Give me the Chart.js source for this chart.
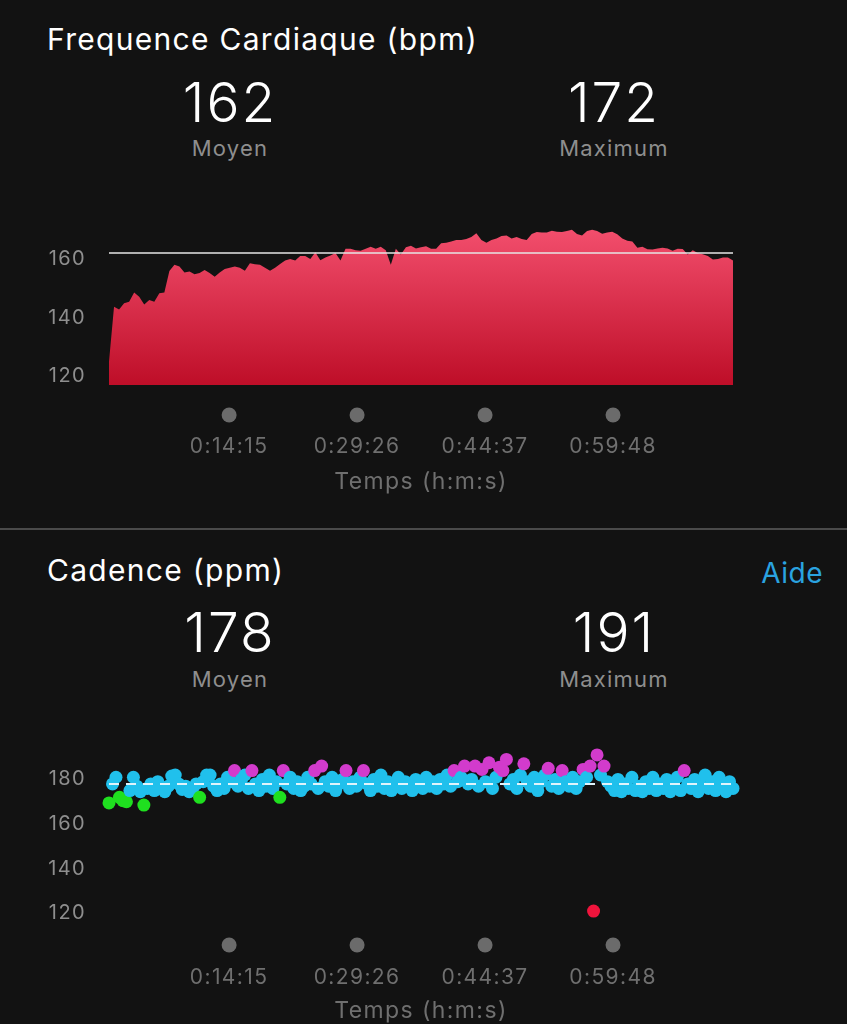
<!DOCTYPE html>
<html>
<head>
<meta charset="utf-8">
<script src="https://cdn.jsdelivr.net/npm/chart.js@4.4.0/dist/chart.umd.min.js"></script>
<style>
  body { margin: 0; background: #121212; width: 847px; height: 1024px; overflow: hidden; position: relative; font-family: Inter, "Noto Sans", sans-serif; }
  .t { position: absolute; white-space: nowrap; }
  .title { left: 47px; font-size: 30px; line-height: 30px; color: #fff; letter-spacing: 1.3px; }
  .big { width: 300px; text-align: center; font-size: 55px; line-height: 55px; color: #fff; font-weight: 300; letter-spacing: 2px; }
  .lbl { width: 300px; text-align: center; font-size: 22px; line-height: 22px; color: #8e8e8e; letter-spacing: 1.2px; }
  .help { right: 24px; font-size: 28px; line-height: 28px; color: #2aa3e0; letter-spacing: 0.5px; }
  .sep { position: absolute; left: 0; width: 847px; top: 528px; height: 2px; background: #4a4a4a; }
  canvas { position: absolute; left: 0; }
</style>
</head>
<body>
  <div class="t title" style="top:24px">Frequence Cardiaque (bpm)</div>
  <div class="t big" style="left:80px;top:75px" id="hrAvg"></div>
  <div class="t lbl" style="left:80px;top:137px">Moyen</div>
  <div class="t big" style="left:464px;top:75px" id="hrMax"></div>
  <div class="t lbl" style="left:464px;top:137px">Maximum</div>
  <canvas id="hr" width="847" height="310" style="top:200px"></canvas>

  <div class="sep"></div>

  <div class="t title" style="top:555px">Cadence (ppm)</div>
  <div class="t help" style="top:559px">Aide</div>
  <div class="t big" style="left:80px;top:605px" id="cadAvg"></div>
  <div class="t lbl" style="left:80px;top:668px">Moyen</div>
  <div class="t big" style="left:464px;top:605px" id="cadMax"></div>
  <div class="t lbl" style="left:464px;top:668px">Maximum</div>
  <canvas id="cad" width="847" height="300" style="top:730px"></canvas>

<script>
// total duration of the activity, in seconds
const duration = 4442;
const timeTicks = [855, 1766, 2677, 3588];
const hrTicks = [120, 140, 160];
const cadTicks = [120, 140, 160, 180];

const hrAvg = 162;
const hrMax = 172;
const cadAvg = 178;
const cadMax = 191;

// heart rate samples, evenly spaced over the duration
const heartRate = [
  125, 143.7, 142.8, 144.9, 145.4, 148.6, 147.1, 144.5, 146.0, 145.4,
  148.3, 148.6, 155.9, 158.0, 157.4, 155.4, 155.7, 154.8, 155.2, 156.2,
  155.2, 153.9, 155.4, 156.6, 157.0, 157.4, 157.0, 156.0, 158.5, 158.2,
  158.0, 157, 156, 157, 158.3, 159.5, 160, 159.5, 161, 161,
  160, 162.3, 159.6, 160.5, 161.2, 162, 159.5, 163.5, 163.5, 163,
  162.8, 163.5, 164.2, 163.5, 164.2, 163, 158, 163.5, 161.5, 164,
  164.5, 163.6, 164, 164.3, 163.5, 163.5, 165.4, 165.5, 166, 166.5,
  166.5, 166.8, 167.5, 168.8, 166.5, 165.5, 166.5, 167, 167.8, 168,
  167, 167.5, 166.8, 166.5, 168.5, 169.2, 169, 169, 169.6, 169.3,
  169.2, 169.5, 170, 168.5, 168, 169.5, 170, 169.5, 168.6, 169,
  169.3, 168.4, 167, 166.2, 166, 163.8, 164.2, 163.3, 163.2, 163.6,
  163.8, 163.6, 162.8, 163.5, 163.4, 161.5, 163, 162, 161.6, 161,
  159.8, 160, 160.5, 160.5, 159.5
];

// cadence samples, evenly spaced over the duration
const cadence = [
  169.5, 178, 181, 172, 170.5, 170, 175, 181, 177, 174.5,
  168.5, 176, 178, 175, 179, 176, 174.5, 177, 181.5, 182,
  178, 175.5, 177, 174.5, 176, 178, 172, 179, 182, 182,
  177, 175, 178, 176, 181, 179, 184, 177, 180, 182,
  176, 184, 178, 175, 180, 177, 182, 176, 179, 172,
  184, 178, 181, 176, 179, 175, 177, 181, 178, 184,
  176, 186, 179, 177, 181, 175, 178, 180, 184, 176,
  179, 177, 181, 184, 178, 175, 180, 177, 182, 176,
  179, 175, 178, 181, 176, 179, 177, 175, 180, 178,
  176, 181, 177, 179, 176, 180, 178, 182, 177, 184,
  179, 181, 186, 178, 180, 186, 177, 184.5, 179, 187.5,
  176, 181, 185.5, 184, 189, 178, 180, 176, 182, 187,
  179, 177, 181, 175, 179, 182, 185, 177, 180, 176,
  184, 179, 177, 181, 176, 179, 184.5, 181, 186, 121,
  191, 182, 186, 179, 177, 175, 180, 174.5, 178, 176,
  181, 175, 177, 174.5, 179, 176, 181, 175, 178, 176,
  180, 174.5, 177, 181, 175, 184, 178, 176, 180, 174.5,
  177, 182, 176, 179, 175, 181, 177, 174.5, 179, 176
];

document.getElementById('hrAvg').textContent = hrAvg;
document.getElementById('hrMax').textContent = hrMax;
document.getElementById('cadAvg').textContent = cadAvg;
document.getElementById('cadMax').textContent = cadMax;

const toPoints = (values) =>
  values.map((v, i) => ({ x: (i * duration) / (values.length - 1), y: v }));

const fmtTime = (s) => {
  const h = Math.floor(s / 3600);
  const m = Math.floor((s % 3600) / 60);
  const sec = Math.round(s % 60);
  return h + ':' + String(m).padStart(2, '0') + ':' + String(sec).padStart(2, '0');
};

// garmin cadence zones
const cadColor = (v) => {
  if (v > 183) return '#d23bcc';
  if (v >= 174) return '#20c0ec';
  if (v >= 164) return '#1fe01f';
  if (v >= 153) return '#f28a1c';
  return '#f0143c';
};

// grey dots drawn above each time label, plus a bit of letter spacing for the axis text
const tickDots = {
  id: 'tickDots',
  beforeDraw(chart) {
    chart.ctx.letterSpacing = '1.4px';
  },
  afterDraw(chart, args, opts) {
    const { ctx, chartArea, scales } = chart;
    const x = scales.x;
    ctx.save();
    ctx.fillStyle = '#6b6b6b';
    x.ticks.forEach((t) => {
      ctx.beginPath();
      ctx.arc(x.getPixelForValue(t.value), chartArea.bottom + opts.offset, 7.5, 0, Math.PI * 2);
      ctx.fill();
    });
    ctx.restore();
  }
};

Chart.defaults.font.family = 'Inter, "Noto Sans", sans-serif';

const xAxis = (height, labelPad, titlePad) => ({
  type: 'linear',
  min: 0,
  max: duration,
  grid: { display: false, drawTicks: false },
  border: { display: false },
  afterBuildTicks: (axis) => { axis.ticks = timeTicks.map((v) => ({ value: v })); },
  afterFit: (axis) => { axis.height = height; },
  ticks: {
    autoSkip: false,
    maxRotation: 0,
    padding: labelPad,
    color: '#6f6f6f',
    font: { size: 21 },
    callback: (v) => fmtTime(v)
  },
  title: {
    display: true,
    text: 'Temps (h:m:s)',
    color: '#6f6f6f',
    font: { size: 23 },
    padding: { top: 0, bottom: titlePad }
  }
});

const yAxis = (min, max, ticks) => ({
  min: min,
  max: max,
  grid: { display: false, drawTicks: false },
  border: { display: false },
  afterBuildTicks: (axis) => { axis.ticks = ticks.map((v) => ({ value: v })); },
  afterFit: (axis) => {
    axis.width = 109;
    axis.paddingTop = 0;
    axis.paddingBottom = 0;
  },
  ticks: { padding: 23, color: '#8e8e8e', font: { size: 20 } }
});

new Chart(document.getElementById('hr'), {
  type: 'line',
  data: {
    datasets: [
      {
        data: [{ x: 0, y: hrAvg }, { x: duration, y: hrAvg }],
        borderColor: '#e6e6e6',
        borderWidth: 1.5,
        pointRadius: 0,
        fill: false,
        order: 0
      },
      {
        data: toPoints(heartRate),
        borderWidth: 0,
        pointRadius: 0,
        fill: 'start',
        order: 1,
        backgroundColor: (ctx) => {
          const area = ctx.chart.chartArea;
          if (!area) return '#e0304f';
          const g = ctx.chart.ctx.createLinearGradient(0, area.top, 0, area.bottom);
          g.addColorStop(0, 'rgb(247,84,115)');
          g.addColorStop(1, 'rgb(190,14,40)');
          return g;
        }
      }
    ]
  },
  options: {
    responsive: false,
    animation: false,
    devicePixelRatio: 1,
    layout: { padding: { top: 15, right: 114, left: 0, bottom: 0 } },
    plugins: { legend: { display: false }, tooltip: { enabled: false }, tickDots: { offset: 30 } },
    scales: { x: xAxis(125, 49, 14), y: yAxis(117, 175, hrTicks) }
  },
  plugins: [tickDots]
});

new Chart(document.getElementById('cad'), {
  type: 'scatter',
  data: {
    datasets: [
      {
        type: 'line',
        data: [{ x: 0, y: cadAvg }, { x: duration, y: cadAvg }],
        borderColor: '#dff3fb',
        borderWidth: 2,
        borderDash: [10, 7],
        pointRadius: 0,
        order: 0
      },
      {
        data: toPoints(cadence),
        pointRadius: 6.5,
        pointBorderWidth: 0,
        clip: false,
        order: 1,
        backgroundColor: (ctx) => cadColor(ctx.raw ? ctx.raw.y : 0)
      }
    ]
  },
  options: {
    responsive: false,
    animation: false,
    devicePixelRatio: 1,
    layout: { padding: { top: 16, right: 114, left: 0, bottom: 0 } },
    plugins: { legend: { display: false }, tooltip: { enabled: false }, tickDots: { offset: 25 } },
    scales: { x: xAxis(110, 45, 5), y: yAxis(117, 195, cadTicks) }
  },
  plugins: [tickDots]
});
</script>
</body>
</html>
